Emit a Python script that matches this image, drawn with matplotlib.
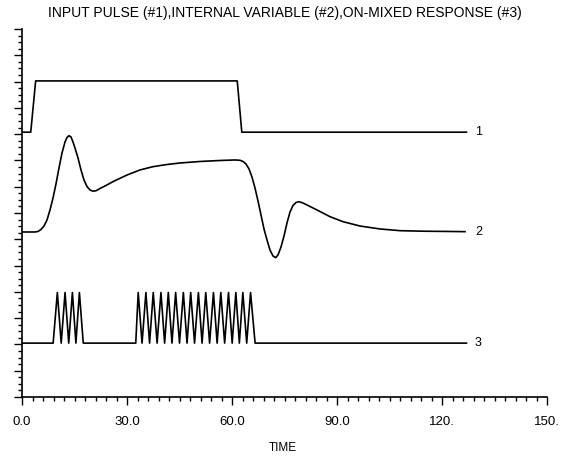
import matplotlib
matplotlib.use("Agg")
import matplotlib.pyplot as plt
from matplotlib.ticker import MultipleLocator

# ---- data ----
# Curve 1: input pulse
t1 = [0.0, 2.5, 3.9, 61.5, 62.8, 127.0]
y1 = [40.3, 40.3, 48.1, 48.1, 40.3, 40.3]

# Curve 2: internal variable
t2 = [0.0, 3.71, 4.57, 5.43, 6.29, 7.14, 8.0, 8.86, 9.71, 10.57, 11.43, 12.29,
      12.86, 13.43, 14.0, 14.57, 15.14, 16.0, 16.86, 17.71, 18.57, 19.43, 20.29,
      21.14, 22.29, 24.0, 26.0, 28.0, 30.0, 33.71, 37.43, 41.43, 45.14, 50.86,
      56.57, 60.86, 62.29, 63.14, 64.0, 64.86, 65.71, 66.57, 67.43, 68.29, 69.14,
      70.0, 70.86, 71.71, 72.49, 73.14, 74.0, 74.86, 75.71, 76.57, 77.43, 78.29,
      79.14, 80.29, 81.43, 84.29, 88.0, 91.71, 96.57, 102.29, 108.0, 114.57,
      122.29, 126.57]
y2 = [25.11, 25.11, 25.19, 25.49, 26.02, 26.94, 28.46, 30.28, 32.42, 34.85, 37.13,
      38.81, 39.49, 39.77, 39.57, 38.81, 37.89, 36.37, 34.55, 33.02, 32.03, 31.50,
      31.32, 31.38, 31.73, 32.19, 32.77, 33.28, 33.78, 34.55, 35.05, 35.38, 35.61,
      35.84, 35.99, 36.07, 36.02, 35.84, 35.46, 34.70, 33.48, 31.81, 29.83, 27.70,
      25.57, 23.89, 22.37, 21.46, 21.20, 21.61, 22.83, 24.50, 26.48, 28.15, 29.14,
      29.60, 29.72, 29.52, 29.22, 28.46, 27.44, 26.68, 26.02, 25.57, 25.31, 25.23,
      25.19, 25.16]

# Curve 3: on-mixed response (zig-zag vertices)
t3 = [0.0, 8.9,
      10.1, 11.2, 12.3, 13.35, 14.4, 15.4, 16.4, 17.5,
      32.5,
      33.2, 34.3, 35.4, 36.45, 37.5, 38.6, 39.7, 40.75, 41.8, 42.85, 43.9, 45.0,
      46.1, 47.15, 48.2, 49.3, 50.4, 51.45, 52.5, 53.6, 54.7, 55.75, 56.8, 57.9,
      59.0, 60.05, 61.1, 62.1, 63.1, 64.2, 65.3, 66.6,
      127.0]
y3 = [8.2, 8.2,
      15.9, 8.2, 15.9, 8.2, 15.9, 8.2, 15.9, 8.2,
      8.2,
      15.9, 8.2, 15.9, 8.2, 15.9, 8.2, 15.9, 8.2, 15.9, 8.2, 15.9, 8.2,
      15.9, 8.2, 15.9, 8.2, 15.9, 8.2, 15.9, 8.2, 15.9, 8.2, 15.9, 8.2,
      15.9, 8.2, 15.9, 8.2, 15.9, 8.2, 15.9, 8.2,
      8.2]

curve_labels = ["1", "2", "3"]
x_ticks = [0, 30, 60, 90, 120, 150]
x_tick_labels = ["0.0", "30.0", "60.0", "90.0", "120.", "150."]
title = "INPUT PULSE (#1),INTERNAL VARIABLE (#2),ON-MIXED RESPONSE (#3)"
xlabel = "TIME"

plt.rcParams['font.family'] = ['Liberation Sans', 'DejaVu Sans']

fig = plt.figure(figsize=(5.66, 4.66), dpi=100)
ax = fig.add_axes([22 / 566, 69 / 466, 525 / 566, 368 / 466])

lw = 1.2
ax.plot(t1, y1, color='black', lw=lw)
ax.plot(t2, y2, color='black', lw=lw)
ax.plot(t3, y3, color='black', lw=lw)

for lab, y in zip(curve_labels, [y1[-1], y2[-1], y3[-1]]):
    ax.text(130.4, y, lab, fontsize=9, va='center', ha='center')

ax.set_xlim(0, 150)
ax.set_ylim(0, 56)
ax.set_xticks(x_ticks)
ax.set_xticklabels(x_tick_labels, fontsize=9.5)
ax.xaxis.set_minor_locator(MultipleLocator(3))
ax.yaxis.set_major_locator(MultipleLocator(4))
ax.yaxis.set_minor_locator(MultipleLocator(1))
ax.tick_params(axis='both', which='major', length=5.5, width=1.0, direction='out')
ax.tick_params(axis='both', which='minor', length=3, width=1.0, direction='out')
ax.tick_params(axis='x', which='major', pad=8)
ax.tick_params(axis='y', which='both', labelleft=False)
for s in ['top', 'right']:
    ax.spines[s].set_visible(False)
for s in ['left', 'bottom']:
    ax.spines[s].set_linewidth(1.2)

fig.text(285 / 566, 1 - 13 / 466, title, fontsize=10, ha='center', va='center')
fig.text(283 / 566, 1 - 448 / 466, xlabel, fontsize=8.5, ha='center', va='center')

fig.savefig("out.png", dpi=100)
